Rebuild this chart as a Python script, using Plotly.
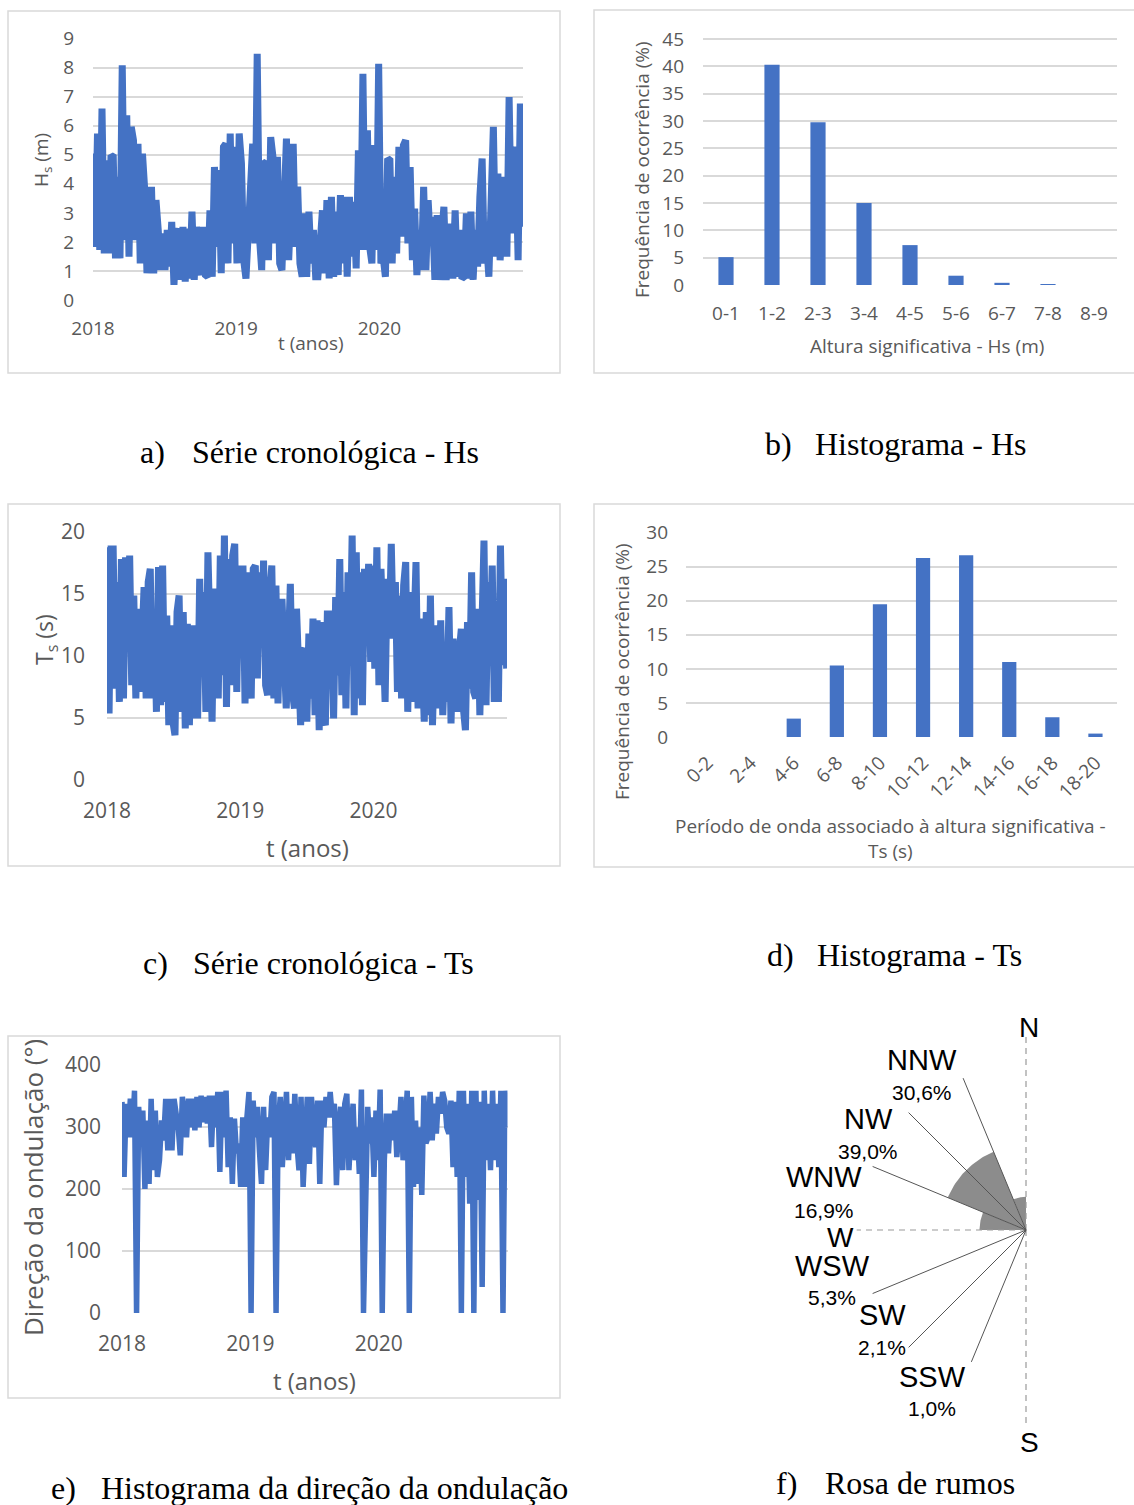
import numpy as np
import pandas as pd
import plotly.graph_objects as go

# ---------------- data ----------------
hs_values = [5.04,1.83,5.73,1.72,6.59,1.60,4.81,1.60,4.98,4.93,1.43,4.24,1.43,8.08,2.06,6.36,1.49,5.96,5.50,2.06,
             5.38,1.26,5.04,3.78,0.92,2.18,3.90,0.92,3.44,2.41,1.03,2.29,1.03,2.41,1.15,2.69,0.52,2.18,2.46,0.69,
             2.52,0.63,2.46,0.74,3.04,0.69,2.52,1.26,0.86,2.52,0.86,0.80,3.09,0.80,4.58,1.83,4.47,0.92,5.27,5.38,
             1.26,5.73,1.95,5.27,1.26,5.73,4.70,1.37,0.74,2.29,4.01,5.38,1.95,8.48,2.18,1.03,4.70,4.75,1.37,5.61,
             4.93,1.95,4.93,1.26,1.03,3.38,5.56,1.37,4.47,5.38,1.83,3.90,1.26,0.80,2.98,0.80,3.04,1.26,2.41,0.80,
             0.80,2.29,3.09,0.92,3.44,0.74,3.55,0.80,3.04,0.86,3.61,1.26,3.55,0.80,3.55,1.49,3.38,1.09,5.15,1.72,
             7.79,1.72,5.84,1.83,1.26,5.33,1.72,8.13,1.26,1.49,0.80,4.87,4.81,1.26,4.24,1.60,5.27,2.18,5.33,5.50,
             1.95,4.58,1.37,3.15,0.86,2.41,1.03,3.90,1.03,3.44,1.95,2.86,0.69,2.92,0.69,2.18,3.21,0.69,1.95,2.63,
             0.74,3.09,0.80,2.41,0.74,0.80,2.98,0.74,3.04,0.69,2.41,1.15,3.55,4.87,1.26,1.95,0.80,4.70,5.96,1.49,
             4.35,1.37,3.55,4.24,1.49,6.99,2.29,5.27,4.93,1.37,6.76,2.52]

ts_values = [18.74,5.35,18.61,18.61,7.36,15.93,6.29,17.80,6.56,17.94,12.45,18.07,7.63,14.86,6.56,13.79,7.10,13.79,15.53,6.56,
             15.93,17.00,6.56,13.52,5.49,17.14,6.02,17.27,6.29,13.25,4.42,12.45,4.69,3.61,13.52,14.86,5.49,13.52,4.15,12.58,
             4.42,12.45,4.95,12.45,4.95,16.20,8.43,15.13,5.49,18.34,6.56,4.69,15.13,15.13,6.56,18.07,8.43,19.68,5.89,17.80,
             7.63,18.07,19.01,7.10,17.27,12.99,17.27,6.16,16.73,7.90,6.56,17.00,17.27,8.17,16.73,11.11,17.67,7.63,6.83,15.13,
             17.27,6.56,15.66,6.16,14.32,14.32,11.11,5.76,10.31,15.80,7.10,5.76,13.79,6.56,4.42,10.31,10.58,4.69,11.78,6.56,
             12.99,5.22,12.85,4.02,12.72,4.95,4.42,13.65,7.90,13.65,4.95,14.73,8.43,17.80,6.83,15.13,5.76,16.73,9.77,19.68,
             5.22,18.34,6.56,16.73,6.02,17.00,12.99,17.40,9.50,17.27,8.97,18.74,7.63,17.00,11.91,6.29,16.20,11.38,19.01,11.38,
             15.93,7.10,14.86,6.56,15.66,17.54,5.49,15.13,6.29,15.80,17.54,5.76,12.99,9.77,4.69,13.52,5.22,14.86,4.42,10.31,
             12.45,5.76,12.85,5.22,10.04,6.29,13.92,4.55,11.38,7.90,5.49,10.31,12.18,5.76,4.02,12.72,7.36,16.73,7.10,6.56,
             13.79,5.22,14.32,19.28,6.02,15.93,10.84,17.27,6.29,11.38,6.29,18.88,9.24,16.20,8.97]

dir_values = [340,219,337,283,345,283,358,0,332,278,326,200,310,208,345,230,326,219,246,310,
              278,345,262,345,262,345,321,299,254,348,321,283,345,299,345,294,348,299,350,307,
              348,305,350,267,350,299,356,227,356,283,358,235,315,208,313,257,273,203,315,203,
              315,356,0,342,283,332,262,208,332,230,315,283,348,356,0,299,348,235,299,356,
              246,337,257,353,273,230,348,203,278,348,240,348,299,267,342,208,342,299,348,315,
              356,315,337,206,299,332,230,337,353,230,294,337,246,299,224,360,0,246,332,273,
              315,219,326,246,360,0,246,321,257,321,278,326,251,291,348,246,299,358,0,348,
              203,310,208,299,190,350,273,283,356,278,337,289,348,321,356,342,299,289,342,235,
              340,219,358,0,358,219,337,176,358,0,358,182,340,42,358,246,337,230,358,246,
              337,235,358,0,358,299]

hs_classes = ["0-1", "1-2", "2-3", "3-4", "4-5", "5-6", "6-7", "7-8", "8-9"]
hs_freq = [5.1, 40.3, 29.8, 15.0, 7.3, 1.7, 0.4, 0.1, 0.0]

ts_classes = ["0-2", "2-4", "4-6", "6-8", "8-10", "10-12", "12-14", "14-16", "16-18", "18-20"]
ts_freq = [0.0, 0.0, 2.7, 10.5, 19.5, 26.3, 26.7, 11.0, 2.9, 0.5]

year_ticks = ["2018-01-01", "2019-01-01", "2020-01-01"]
year_labels = ["2018", "2019", "2020"]

# rose data (compass degrees, clockwise from N)
rose_dirs = ["NNW", "NW", "WNW", "WSW", "SW", "SSW"]
rose_pct = ["30,6%", "39,0%", "16,9%", "5,3%", "2,1%", "1,0%"]
rose_angles = [337.5, 315.0, 292.5, 247.5, 225.0, 202.5]
rose_leader_len = [0.99, 1.0, 1.0, 1.0, 1.0, 0.86]
sector_start = [270.0, 337.5, 292.5]
sector_end = [292.5, 360.0, 337.5]
sector_r = [0.28, 0.20, 0.51]

# ---------------- layout helpers ----------------
W, H = 1134, 1505
BLUE = "#4472C4"
GRID = "#d9d9d9"
TXT = "#595959"
FONT = "Open Sans"


def xd(a, b):
    return [a / W, b / W]


def yd(top, bottom):
    return [1 - bottom / H, 1 - top / H]


def dates(n):
    return pd.date_range("2018-01-01", "2020-12-31", periods=n)


fig = go.Figure()

# a) Hs time series
fig.add_trace(go.Scatter(x=dates(len(hs_values)), y=hs_values, mode="lines",
                         line=dict(color=BLUE, width=7), xaxis="x", yaxis="y", showlegend=False))
# b) Hs histogram
fig.add_trace(go.Bar(x=hs_classes, y=hs_freq, marker=dict(color=BLUE, line=dict(width=0)),
                     xaxis="x2", yaxis="y2", showlegend=False))
# c) Ts time series
fig.add_trace(go.Scatter(x=dates(len(ts_values)), y=ts_values, mode="lines",
                         line=dict(color=BLUE, width=7), xaxis="x3", yaxis="y3", showlegend=False))
# d) Ts histogram
fig.add_trace(go.Bar(x=ts_classes, y=ts_freq, marker=dict(color=BLUE, line=dict(width=0)),
                     xaxis="x4", yaxis="y4", showlegend=False))
# e) direction time series
fig.add_trace(go.Scatter(x=dates(len(dir_values)), y=dir_values, mode="lines",
                         line=dict(color=BLUE, width=5.5), xaxis="x5", yaxis="y5", showlegend=False))

# f) rose
for s0, s1, r in zip(sector_start, sector_end, sector_r):
    th = np.radians(np.linspace(s0, s1, 40))
    xs = np.concatenate([[0], r * np.sin(th), [0]])
    ys = np.concatenate([[0], r * np.cos(th), [0]])
    fig.add_trace(go.Scatter(x=xs, y=ys, mode="lines", fill="toself", fillcolor="#8c8c8c",
                             line=dict(width=0, color="#8c8c8c"), xaxis="x6", yaxis="y6",
                             showlegend=False, hoverinfo="skip"))
# dashed reference axes (N, S, W)
axis_dirs = [0.0, 180.0, 270.0]
axis_lens = [1.175, 1.19, 1.02]
for a, l in zip(axis_dirs, axis_lens):
    t = np.radians(a)
    fig.add_trace(go.Scatter(x=[0, l * np.sin(t)], y=[0, l * np.cos(t)], mode="lines",
                             line=dict(color="#9a9a9a", width=1.2, dash="6px,5px"),
                             xaxis="x6", yaxis="y6", showlegend=False, hoverinfo="skip"))
for a, l in zip(rose_angles, rose_leader_len):
    t = np.radians(a)
    fig.add_trace(go.Scatter(x=[0, l * np.sin(t)], y=[0, l * np.cos(t)], mode="lines",
                             line=dict(color="#555555", width=1),
                             xaxis="x6", yaxis="y6", showlegend=False, hoverinfo="skip"))

font19 = dict(family=FONT, size=19, color=TXT)
font21 = dict(family=FONT, size=21, color=TXT)


def date_x(dom, anchor, font, standoff):
    return dict(domain=dom, anchor=anchor, type="date", range=["2018-01-01", "2021-01-01"],
                tickvals=year_ticks, ticktext=year_labels, showgrid=False, zeroline=False,
                showline=False, ticks="", tickfont=font, ticklabelstandoff=standoff,
                automargin=False, fixedrange=True)


def val_y(dom, anchor, rng, dtick, font, standoff):
    return dict(domain=dom, anchor=anchor, range=rng, dtick=dtick, showgrid=True, gridcolor=GRID,
                gridwidth=1.5, zeroline=False, showline=False, ticks="", tickfont=font,
                ticklabelstandoff=standoff, automargin=False, fixedrange=True)


# rose axis ranges: 166 px per unit, centre at (1026, 1230)
RX0, RX1, RY0, RY1 = 760, 1134, 1010, 1460
CX, CY, U = 1026, 1230, 166.0

fig.update_layout(
    template="none",
    width=W, height=H, margin=dict(l=0, r=0, t=0, b=0, pad=0, autoexpand=False),
    paper_bgcolor="white", plot_bgcolor="white",
    bargap=0.67, showlegend=False,
    xaxis=date_x(xd(93, 523), "y", font19, 15),
    yaxis=val_y(yd(38, 300), "x", [0, 9.02], 1, font19, 18),
    xaxis2=dict(domain=xd(703, 1117), anchor="y2", type="category", showgrid=False, ticks="",
                showline=False, zeroline=False, tickfont=font19, ticklabelstandoff=15,
                automargin=False, fixedrange=True),
    yaxis2=val_y(yd(38, 285), "x2", [0, 45.2], 5, font19, 18),
    xaxis3=date_x(xd(107, 507), "y3", font21, 16),
    yaxis3=val_y(yd(531, 780), "x3", [0, 20.05], 5, font21, 21),
    xaxis4=dict(domain=xd(686, 1117), anchor="y4", type="category", showgrid=False, ticks="",
                showline=False, zeroline=False, tickangle=-45, tickfont=font19,
                ticklabelstandoff=10, automargin=False, fixedrange=True),
    yaxis4=val_y(yd(532, 737), "x4", [0, 30.1], 5, font19, 17),
    xaxis5=date_x(xd(122, 507.5), "y5", font21, 16),
    yaxis5=val_y(yd(1064, 1313), "x5", [0, 401], 100, font21, 20),
    xaxis6=dict(domain=xd(RX0, RX1), anchor="y6", range=[(RX0 - CX) / U, (RX1 - CX) / U],
                visible=False, automargin=False, fixedrange=True),
    yaxis6=dict(domain=yd(RY0, RY1), anchor="x6", range=[(CY - RY1) / U, (CY - RY0) / U],
                visible=False, automargin=False, fixedrange=True),
)

# panel borders
for (x0, y0, x1, y1) in [(8, 11, 560, 373), (594, 10, 1140, 373), (8, 504, 560, 866),
                         (594, 504, 1140, 867), (8, 1036, 560, 1398)]:
    fig.add_shape(type="rect", xref="paper", yref="paper", x0=x0 / W, x1=x1 / W,
                  y0=1 - y1 / H, y1=1 - y0 / H, line=dict(color=GRID, width=1.5))

anns = []


def ann(text, x, y, size, color=TXT, angle=0, family=FONT, xanchor="center"):
    anns.append(dict(text=text, x=x / W, y=1 - y / H, xref="paper", yref="paper", showarrow=False,
                     textangle=angle, xanchor=xanchor, yanchor="middle",
                     font=dict(family=family, size=size, color=color)))


# axis titles
ann("H<sub>s</sub> (m)", 42, 160, 19, angle=-90)
ann("t (anos)", 311, 343, 19)
ann("Frequência de ocorrência (%)", 642, 170, 19, angle=-90)
ann("Altura significativa - Hs (m)", 927, 346, 19)
ann("T<sub>s</sub> (s)", 45, 640, 23, angle=-90)
ann("t (anos)", 307, 847, 24)
ann("Frequência de ocorrência (%)", 622, 672, 19, angle=-90)
ann("Período de onda associado à altura significativa -<br>Ts (s)", 890, 838, 19)
ann("Direção da ondulação (°)", 33, 1188, 26, angle=-90)
ann("t (anos)", 314, 1380, 24)

# captions
SERIF = "Liberation Serif"
caps = [("a)", 152, "Série cronológica - Hs", 190, 452),
        ("b)", 778, "Histograma - Hs", 813, 444),
        ("c)", 155, "Série cronológica - Ts", 191, 963),
        ("d)", 780, "Histograma - Ts", 815, 955),
        ("e)", 63, "Histograma da direção da ondulação", 99, 1488),
        ("f)", 786, "Rosa de rumos", 823, 1483)]
for lab, lx, txt, tx, y in caps:
    ann(lab, lx, y, 32, color="black", family=SERIF)
    ann(txt, tx, y, 32, color="black", family=SERIF, xanchor="left")

# rose labels
SANS = "Liberation Sans"
ann("N", 1029, 1027, 28, color="black", family=SANS)
ann("S", 1029, 1442, 28, color="black", family=SANS)
ann("W", 840, 1237, 28, color="black", family=SANS)
label_pos = [(922, 1060, 1092), (868, 1119, 1151), (824, 1177, 1210),
             (832, 1266, 1297), (882, 1315, 1347), (932, 1377, 1408)]
for name, pct, (lx, ly, py) in zip(rose_dirs, rose_pct, label_pos):
    ann(name, lx, ly, 29, color="black", family=SANS)
    ann(pct, lx, py, 21, color="black", family=SANS)

fig.update_layout(annotations=anns)
fig.write_html("out.html")
